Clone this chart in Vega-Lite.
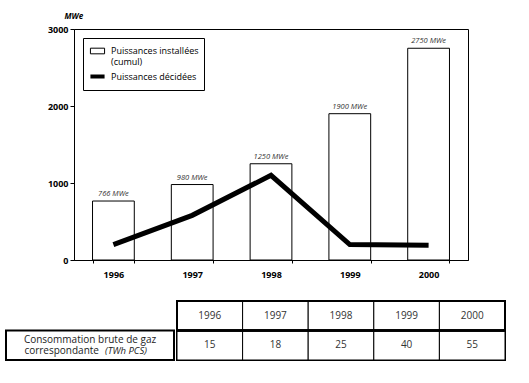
{
  "$schema": "https://vega.github.io/schema/vega-lite/v6.json",
  "padding": {"left": 5, "top": 11, "right": 5, "bottom": 5},
  "background": "white",
  "spacing": 19,
  "config": {
    "font": "Open Sans",
    "axis": {"domainColor": "black", "tickColor": "black", "labelColor": "black", "grid": false}
  },
  "vconcat": [
    {
      "spacing": 0,
      "resolve": {
        "scale": {"shape": "independent", "strokeWidth": "independent"},
        "legend": {"shape": "independent", "strokeWidth": "independent"}
      },
      "hconcat": [
        {
          "width": 27,
          "height": 10,
          "view": {"stroke": null},
          "data": {"values": []},
          "mark": "point"
        },
        {
          "width": 394,
          "height": 231,
          "view": {"stroke": "black", "strokeWidth": 1},
          "data": {
            "values": [
              {"year": "1996", "installed": 766, "decided": 200},
              {"year": "1997", "installed": 980, "decided": 580},
              {"year": "1998", "installed": 1250, "decided": 1100},
              {"year": "1999", "installed": 1900, "decided": 200},
              {"year": "2000", "installed": 2750, "decided": 190}
            ]
          },
          "encoding": {
            "x": {
              "field": "year",
              "type": "nominal",
              "scale": {"paddingInner": 0.47, "paddingOuter": 0.235},
              "axis": {
                "title": null,
                "labelAngle": 0,
                "labelFontWeight": "bold",
                "labelFontSize": 9,
                "labelPadding": 7,
                "tickBand": "extent",
                "tickSize": 3
              }
            }
          },
          "layer": [
            {
              "mark": {"type": "bar", "fill": "white", "stroke": "black", "strokeWidth": 1},
              "encoding": {
                "y": {
                  "field": "installed",
                  "type": "quantitative",
                  "scale": {"domain": [0, 3000], "nice": false},
                  "axis": {
                    "title": "MWe",
                    "values": [0, 500, 1000, 1500, 2000, 2500, 3000],
                    "format": "d",
                    "labelFontWeight": "bold",
                    "labelFontSize": 9,
                    "labelPadding": 2,
                    "tickSize": 4,
                    "minExtent": 40,
                    "titleAngle": 0,
                    "titleAlign": "left",
                    "titleBaseline": "middle",
                    "titleX": -10,
                    "titleY": -13,
                    "titleFontStyle": "italic",
                    "titleFontWeight": "bold",
                    "titleFontSize": 8
                  }
                }
              }
            },
            {
              "transform": [{"calculate": "datum.installed + ' MWe'", "as": "label"}],
              "mark": {"type": "text", "fontStyle": "italic", "fontSize": 7.5, "baseline": "bottom", "dy": -3, "color": "#333"},
              "encoding": {
                "y": {"field": "installed", "type": "quantitative"},
                "text": {"field": "label"}
              }
            },
            {
              "mark": {"type": "line", "color": "black", "strokeWidth": 5, "strokeCap": "butt", "strokeJoin": "miter"},
              "encoding": {
                "y": {"field": "decided", "type": "quantitative"}
              }
            },
            {
              "data": {
                "values": [
                  {"series": "Puissances installées (cumul)"},
                  {"series": "Puissances décidées"}
                ]
              },
              "mark": {"type": "point", "filled": false, "color": "black", "opacity": 0},
              "encoding": {
                "x": {"value": 0},
                "shape": {
                  "field": "series",
                  "type": "nominal",
                  "scale": {
                    "domain": ["Puissances installées (cumul)", "Puissances décidées"],
                    "range": ["M-1,-0.4L1,-0.4L1,0.4L-1,0.4Z", "M-1,0L1,0"]
                  },
                  "legend": {
                    "title": null,
                    "orient": "top-left",
                    "offset": 9,
                    "padding": 5,
                    "strokeColor": "black",
                    "fillColor": "white",
                    "labelFontSize": 9,
                    "labelColor": "black",
                    "labelExpr": "datum.label == 'Puissances installées (cumul)' ? ['Puissances installées', '(cumul)'] : datum.label",
                    "symbolSize": 200,
                    "symbolOpacity": 1,
                    "symbolStrokeColor": "black",
                    "rowPadding": 0
                  }
                },
                "strokeWidth": {
                  "field": "series",
                  "type": "ordinal",
                  "scale": {
                    "domain": ["Puissances installées (cumul)", "Puissances décidées"],
                    "range": [1, 4]
                  },
                  "legend": {
                    "title": null,
                    "orient": "top-left",
                    "offset": 9,
                    "padding": 5,
                    "strokeColor": "black",
                    "fillColor": "white",
                    "labelFontSize": 9,
                    "labelColor": "black",
                    "labelExpr": "datum.label == 'Puissances installées (cumul)' ? ['Puissances installées', '(cumul)'] : datum.label",
                    "symbolSize": 200,
                    "symbolOpacity": 1,
                    "symbolStrokeColor": "black",
                    "rowPadding": 0
                  }
                }
              }
            }
          ]
        }
      ]
    },
    {
      "spacing": 0,
      "hconcat": [
        {
          "width": 168,
          "height": 59,
          "view": {"stroke": null},
          "data": {"values": [{"row": "gas"}]},
          "encoding": {
            "y": {"field": "row", "type": "nominal", "scale": {"domain": ["year", "gas"], "paddingInner": 0, "paddingOuter": 0}, "axis": null}
          },
          "layer": [
            {"mark": {"type": "rect", "fill": "white", "stroke": "black", "strokeWidth": 2}},
            {"mark": {"type": "text", "text": "Consommation brute de gaz", "fontSize": 10, "dy": -5.5, "color": "#222"}},
            {"mark": {"type": "text", "text": "correspondante", "fontSize": 10, "dy": 6, "dx": 9, "align": "right", "color": "#222"}},
            {"mark": {"type": "text", "text": "(TWh PCS)", "fontSize": 9.5, "fontStyle": "italic", "dy": 6, "dx": 15, "align": "left", "color": "#222"}}
          ]
        },
        {
          "width": 328,
          "height": 59,
          "view": {"stroke": "black", "strokeWidth": 2},
          "data": {
            "values": [
              {"col": "1996", "row": "year", "text": "1996"},
              {"col": "1997", "row": "year", "text": "1997"},
              {"col": "1998", "row": "year", "text": "1998"},
              {"col": "1999", "row": "year", "text": "1999"},
              {"col": "2000", "row": "year", "text": "2000"},
              {"col": "1996", "row": "gas", "text": "15"},
              {"col": "1997", "row": "gas", "text": "18"},
              {"col": "1998", "row": "gas", "text": "25"},
              {"col": "1999", "row": "gas", "text": "40"},
              {"col": "2000", "row": "gas", "text": "55"}
            ]
          },
          "encoding": {
            "y": {"field": "row", "type": "nominal", "scale": {"domain": ["year", "gas"], "paddingInner": 0, "paddingOuter": 0}, "axis": null}
          },
          "layer": [
            {
              "mark": {"type": "rect", "fill": "white", "stroke": "black", "strokeWidth": 1},
              "encoding": {
                "x": {"field": "col", "type": "nominal", "scale": {"paddingInner": 0, "paddingOuter": 0}, "axis": null}
              }
            },
            {
              "transform": [{"filter": "datum.row == 'year'"}],
              "mark": {"type": "rect", "fill": null, "stroke": "black", "strokeWidth": 2}
            },
            {
              "mark": {"type": "text", "fontSize": 10, "color": "#333"},
              "encoding": {
                "x": {"field": "col", "type": "nominal"},
                "text": {"field": "text"}
              }
            }
          ]
        }
      ]
    }
  ]
}
